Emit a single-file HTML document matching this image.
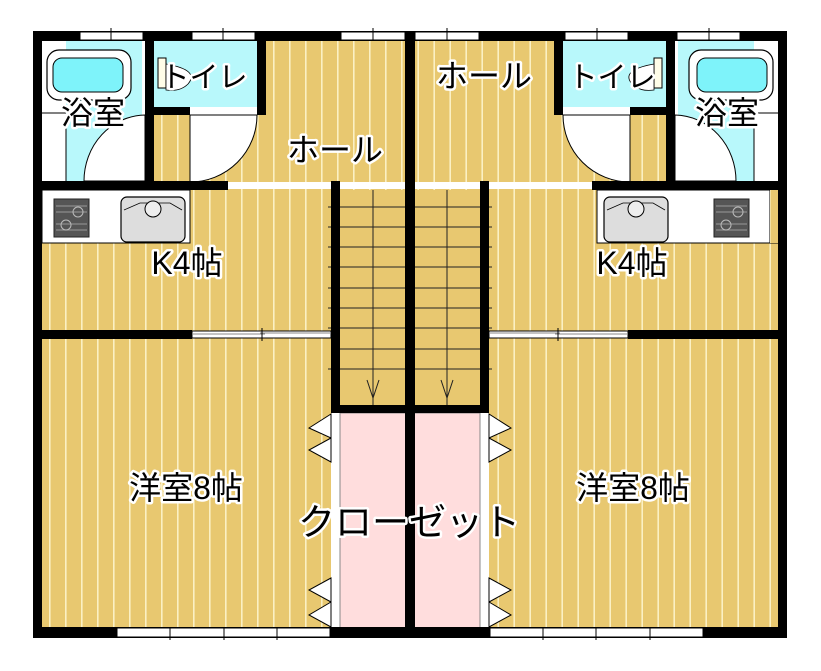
<!DOCTYPE html>
<html><head><meta charset="utf-8"><style>
html,body{margin:0;padding:0;background:#fff;}
svg{display:block;}
text{font-family:"Liberation Sans","Noto Sans CJK JP",sans-serif;font-size:32px;fill:#000;stroke:#fff;stroke-width:5px;paint-order:stroke;stroke-linejoin:round;}
</style></head><body>
<svg width="821" height="671" viewBox="0 0 821 671" xmlns="http://www.w3.org/2000/svg">
<defs>
<pattern id="fl" x="1" y="0" width="16" height="20" patternUnits="userSpaceOnUse">
<rect width="16" height="20" fill="#E8C870"/><rect x="0" width="1.6" height="20" fill="#FBF0C4"/>
</pattern>
<g id="stove">
<rect x="0" y="0" width="35" height="38" fill="#555" stroke="#222" stroke-width="1"/>
<g stroke="#999" stroke-width="1"><line x1="2" y1="7" x2="33" y2="7"/><line x1="2" y1="13" x2="33" y2="13"/><line x1="2" y1="25" x2="33" y2="25"/><line x1="2" y1="31" x2="33" y2="31"/></g>
<circle cx="24" cy="13" r="5" fill="none" stroke="#bbb"/><circle cx="12" cy="26" r="5" fill="none" stroke="#bbb"/>
</g>
<g id="sink">
<rect x="0" y="0" width="64" height="45" rx="6" fill="#ddd" stroke="#000" stroke-width="1.2"/>
<path d="M3,13 L19,6 L49,6 L61,13" fill="none" stroke="#000" stroke-width="0.8"/>
<circle cx="32" cy="12" r="8" fill="#eee" stroke="#000" stroke-width="1"/>
</g>
<g id="half">
<rect x="33" y="32" width="377" height="605" fill="url(#fl)"/>
<rect x="42" y="40" width="103" height="141" fill="#B8F8FB"/>
<rect x="42" y="40" width="24" height="141" fill="#fff"/>
<line x1="42" y1="113" x2="66" y2="113" stroke="#000" stroke-width="1"/>
<rect x="142" y="40" width="3" height="141" fill="#fff"/>
<rect x="47" y="50" width="84" height="50" rx="12" fill="#fff" stroke="#000" stroke-width="1.2"/>
<rect x="53" y="58" width="70" height="34" rx="9" fill="#7EF3FA" stroke="#000" stroke-width="1"/>
<path d="M145,181 L84,181 A62,66 0 0 1 145,115 Z" fill="#fff" stroke="#000" stroke-width="1"/>
<line x1="66" y1="115" x2="66" y2="181" stroke="#000" stroke-width="1"/>
<rect x="154" y="41" width="103" height="66" fill="#B8F8FB"/>
<path d="M158,58 h8 v30 h-8 z" fill="#fffde8" stroke="#000" stroke-width="1"/>
<path d="M166,64 Q200,70 188,84 Q180,92 166,90 z" fill="#fff" stroke="#000" stroke-width="0.8"/>
<rect x="190" y="107" width="67" height="8" fill="#fff"/>
<path d="M190,115 L257,115 A67,67 0 0 1 190,182 Z" fill="#fff" stroke="#000" stroke-width="1"/>
<rect x="42" y="190" width="148" height="53" fill="#fff" stroke="#000" stroke-width="1"/>
<use href="#stove" x="54" y="199"/>
<use href="#sink" x="121" y="197"/>
<rect x="340" y="190" width="66" height="215" fill="#E8C870"/>
<g stroke="#222" stroke-width="1">
<line x1="328" y1="207" x2="406" y2="207"/><line x1="328" y1="227" x2="406" y2="227"/><line x1="328" y1="247" x2="406" y2="247"/><line x1="328" y1="267" x2="406" y2="267"/><line x1="328" y1="288" x2="406" y2="288"/><line x1="328" y1="308" x2="406" y2="308"/><line x1="328" y1="328" x2="406" y2="328"/><line x1="340" y1="349" x2="406" y2="349"/><line x1="328" y1="369" x2="406" y2="369"/>
<line x1="373" y1="190" x2="373" y2="405"/>
<polyline points="367,380 373,398 379,380" fill="none"/>
</g>
<rect x="331" y="413" width="9" height="215" fill="#fff"/>
<rect x="340" y="413" width="66" height="215" fill="#FFDDDD" stroke="#888" stroke-width="1"/>
<g fill="#fff" stroke="#000" stroke-width="1">
<polygon points="331,414 309,428 331,438"/><polygon points="331,438 309,450 331,462"/>
<polygon points="331,578 309,590 331,602"/><polygon points="331,602 309,615 331,627"/>
</g>
<g fill="#000">
<rect x="33" y="31" width="377" height="10"/>
<rect x="33" y="31" width="9" height="606"/>
<rect x="145" y="31" width="9" height="150"/>
<rect x="257" y="31" width="9" height="84"/>
<rect x="145" y="107" width="45" height="8"/>
<rect x="33" y="181" width="195" height="9"/>
<rect x="331" y="181" width="9" height="232"/>
<rect x="405" y="31" width="5" height="606"/>
<rect x="33" y="330" width="159" height="9"/>
<rect x="331" y="405" width="79" height="8"/>
<rect x="33" y="627" width="377" height="11"/>
</g>
<rect x="228" y="182" width="103" height="7" fill="#fff"/>
<rect x="340" y="182" width="65" height="7" fill="#fff"/>
<g fill="#fff" stroke="#000" stroke-width="1">
<rect x="80" y="32" width="63" height="8"/><rect x="192" y="32" width="63" height="8"/><rect x="341" y="32" width="64" height="8"/>
<rect x="192" y="331" width="139" height="7"/>
<rect x="117" y="628" width="213" height="9"/>
</g>
<g stroke="#000" stroke-width="1">
<line x1="111" y1="28" x2="111" y2="40"/><line x1="223" y1="28" x2="223" y2="40"/><line x1="373" y1="28" x2="373" y2="40"/>
<line x1="192" y1="334" x2="265" y2="334" stroke="#888"/><line x1="260" y1="333" x2="331" y2="333" stroke="#888"/><line x1="262" y1="328" x2="262" y2="341"/>
<line x1="170" y1="628" x2="170" y2="640"/><line x1="224" y1="628" x2="224" y2="640"/><line x1="277" y1="628" x2="277" y2="640"/>
</g>
</g>
</defs>
<use href="#half"/>
<use href="#half" transform="translate(820,0) scale(-1,1)"/>
<!-- right kitchen counter (not mirrored exactly) -->
<rect x="597" y="190" width="173" height="53" fill="#fff" stroke="#000" stroke-width="1"/>
<rect x="770" y="190" width="8" height="53" fill="url(#fl)"/>
<use href="#sink" x="604" y="197"/>
<use href="#stove" x="714" y="199"/>
<text x="93" y="124" text-anchor="middle">浴室</text>
<text x="727" y="124" text-anchor="middle">浴室</text>
<text x="204" y="87" text-anchor="middle" style="font-size:29px">トイレ</text>
<text x="612" y="87" text-anchor="middle" style="font-size:29px">トイレ</text>
<text x="335" y="161" text-anchor="middle">ホール</text>
<text x="484" y="87" text-anchor="middle">ホール</text>
<text x="187" y="274" text-anchor="middle">K4帖</text>
<text x="632" y="274" text-anchor="middle">K4帖</text>
<text x="186" y="499" text-anchor="middle">洋室8帖</text>
<text x="633" y="499" text-anchor="middle">洋室8帖</text>
<text x="409" y="535" text-anchor="middle" style="font-size:37px">クローゼット</text>
</svg>
</body></html>
